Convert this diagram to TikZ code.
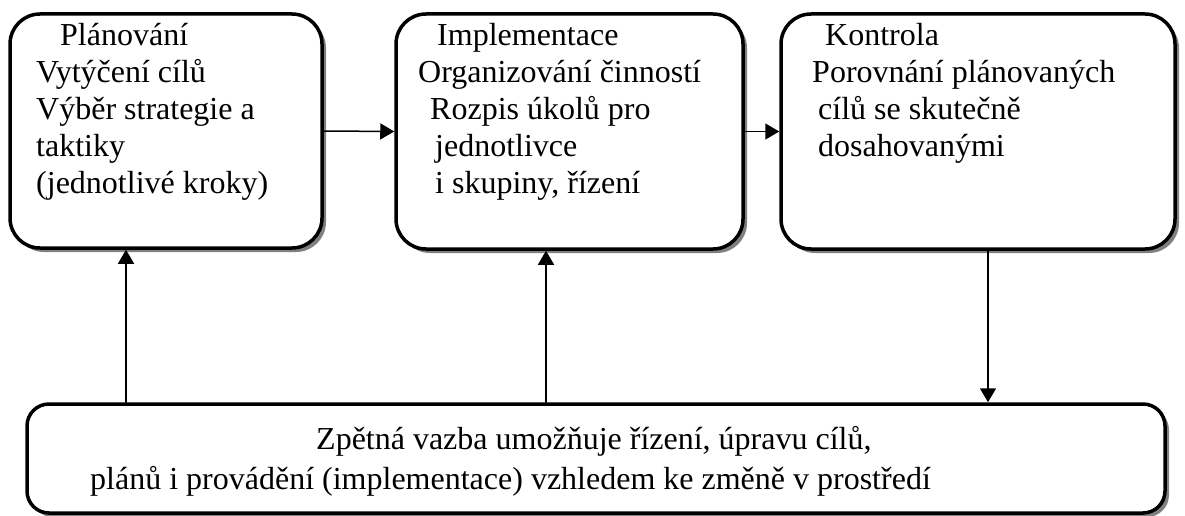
\documentclass[tikz,border=0pt]{standalone}
\usepackage{fontspec}
\setmainfont{Liberation Serif}
\usetikzlibrary{arrows.meta,shadows}
\tikzset{
	box/.style={draw,line width=3.5pt,rounded corners=30pt,fill=white,inner sep=0pt,
		drop shadow={shadow xshift=4pt,shadow yshift=-4pt,fill=black!50,opacity=1}},
	boxtext/.style={align=left,anchor=north west,inner sep=0pt,font=\fontsize{32}{37}\selectfont}
}

\begin{document}
\begin{tikzpicture}[line cap=round,line join=round,>={Triangle[length=14pt,width=16pt]},x=1pt,y=-1pt]
		\useasboundingbox (0,0) rectangle (1185,516);
		\node[box,minimum width=312pt,minimum height=234pt] (plan) at (166,131) {};
		\node[box,minimum width=347pt,minimum height=235pt] (impl) at (569.5,131.5) {};
		\node[box,minimum width=394pt,minimum height=235pt] (kontr) at (978,131.5) {};
		\node[box,minimum width=1138pt,minimum height=109pt,rounded corners=22pt] (vazba) at (596,458.5) {};
		\node[boxtext] (plantext) at (36,19.1) {\strut\hspace*{24pt}Plánování\\Vytýčení cílů\\Výběr strategie a\\taktiky\\(jednotlivé kroky)};
		\node[boxtext] (impltext) at (418,19.1) {\strut\hspace*{19pt}Implementace\\Organizování činností\\\hspace*{12pt}Rozpis úkolů pro\\\hspace*{17pt}jednotlivce\\\hspace*{17pt}i skupiny, řízení};
		\node[boxtext] (kontrtext) at (812,19.1) {\strut\hspace*{13pt}Kontrola\\Porovnání plánovaných\\\hspace*{6pt}cílů se skutečně\\\hspace*{6pt}dosahovanými};
		\node[boxtext,font=\fontsize{32}{40}\selectfont] (vazbatext) at (90,421) {\strut\hspace*{226pt}Zpětná vazba umožňuje řízení, úpravu cílů,\\plánů i provádění (implementace) vzhledem ke změně v prostředí};
		\coordinate (left) at (126,0);
		\coordinate (mid) at (546,0);
		\coordinate (right) at (988,0);
		\draw [->,line width=1.5pt] (plan.east) -- (impl.west);
		\draw [->,line width=1.5pt] (impl.east) -- (kontr.west);
		\draw [->,line width=1.5pt] (vazba.north -| left) -- (plan.south -| left);
		\draw [->,line width=1.5pt] (vazba.north -| mid) -- (impl.south -| mid);
		\draw [->,line width=1.5pt] (kontr.south -| right) -- (vazba.north -| right);
	\end{tikzpicture}
\end{document}
